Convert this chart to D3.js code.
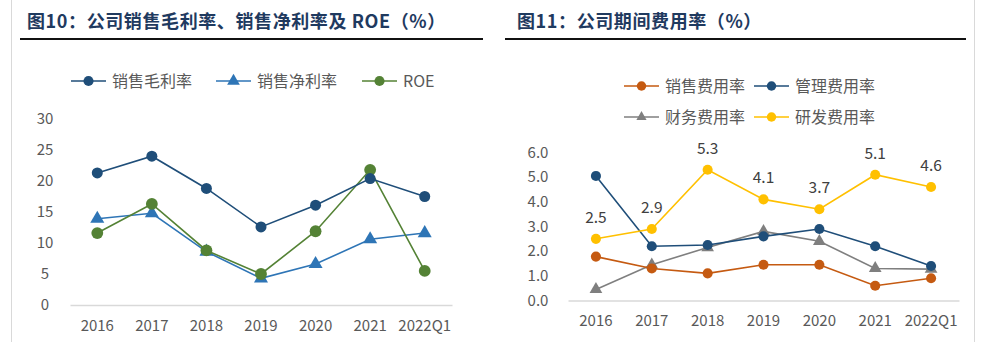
<!DOCTYPE html>
<html>
<head>
<meta charset="utf-8">
<script src="https://cdn.jsdelivr.net/npm/d3@7"></script>
<style>
  body { margin: 0; background: #fff; }
  svg text { font-family: "Noto Sans CJK SC", "Noto Sans", sans-serif; }
</style>
</head>
<body>
<div id="chart"></div>
<script>
const chart_width = 988;
const chart_height = 342;

// categories shared by both charts
const years = ['2016', '2017', '2018', '2019', '2020', '2021', '2022Q1'];

// chart 10 series (%)
const gross_margin = [21.3, 24.0, 18.8, 12.6, 16.1, 20.4, 17.5];
const net_margin = [13.9, 14.8, 8.6, 4.3, 6.6, 10.6, 11.6];
const roe = [11.6, 16.3, 8.8, 5.0, 11.9, 21.8, 5.5];
const left_ticks = [0, 5, 10, 15, 20, 25, 30];

// chart 11 series (%)
const sales_exp = [1.78, 1.3, 1.1, 1.45, 1.45, 0.6, 0.9];
const admin_exp = [5.05, 2.2, 2.25, 2.6, 2.9, 2.2, 1.4];
const finance_exp = [0.45, 1.45, 2.15, 2.8, 2.4, 1.3, 1.27];
const rd_exp = [2.5, 2.9, 5.3, 4.1, 3.7, 5.1, 4.6];
const right_ticks = [0, 1, 2, 3, 4, 5, 6];

const c_navy = '#1f4e79';
const c_blue = '#2e75b6';
const c_green = '#548235';
const c_orange = '#c55a11';
const c_gray = '#7f7f7f';
const c_yellow = '#ffc000';
const c_text = '#595959';

const svg = d3.select('#chart')
    .append('svg')
    .attr('width', chart_width)
    .attr('height', chart_height);

// page frame lines
svg.append('line').attr('x1', 11.5).attr('x2', 11.5).attr('y1', 0).attr('y2', chart_height)
    .attr('stroke', '#d9d9d9');
svg.append('line').attr('x1', 974.5).attr('x2', 974.5).attr('y1', 0).attr('y2', chart_height)
    .attr('stroke', '#d9d9d9');

//--------------------------------------------------------------------
// titles
function title(x, x1, x2, label) {
    svg.append('text')
        .attr('x', x).attr('y', 28)
        .attr('font-size', 18)
        .attr('font-weight', 'bold')
        .attr('letter-spacing', 0.6)
        .attr('fill', '#1f3a5f')
        .text(label);
    svg.append('line')
        .attr('x1', x1).attr('x2', x2)
        .attr('y1', 39).attr('y2', 39)
        .attr('stroke', '#111').attr('stroke-width', 2);
}
title(27, 20, 483, '图10：公司销售毛利率、销售净利率及 ROE（%）');
title(517, 505, 966, '图11：公司期间费用率（%）');

//--------------------------------------------------------------------
// markers
function marker(g, shape, color, x, y, size) {
    if (shape === 'triangle') {
        g.append('path')
            .attr('d', d3.symbol(d3.symbolTriangle, size)())
            .attr('transform', 'translate(' + x + ',' + (y) + ')')
            .attr('fill', color);
    } else {
        g.append('circle')
            .attr('cx', x).attr('cy', y).attr('r', Math.sqrt(size / Math.PI))
            .attr('fill', color);
    }
}

function legend_item(x, y, s) {
    const g = svg.append('g');
    g.append('line')
        .attr('x1', x).attr('x2', x + 35)
        .attr('y1', y).attr('y2', y)
        .attr('stroke', s.color).attr('stroke-width', 1.5);
    marker(g, s.shape, s.color, x + 17.5, y, s.legend_size);
    g.append('text')
        .attr('x', x + 41).attr('y', y + 5.5)
        .attr('font-size', 16)
        .attr('fill', c_text)
        .text(s.name);
}

//--------------------------------------------------------------------
// generic line chart
function draw_chart(cfg) {
    const x_scale = d3.scaleBand()
        .domain(years)
        .range([cfg.left, cfg.right]);

    const y_scale = d3.scaleLinear()
        .domain([0, d3.max(cfg.ticks)])
        .range([cfg.bottom, cfg.top]);

    const y_axis = d3.axisLeft(y_scale)
        .tickValues(cfg.ticks)
        .tickSize(0)
        .tickPadding(0)
        .tickFormat(cfg.format);

    svg.append('g')
        .attr('transform', 'translate(' + cfg.label_x + ',0)')
        .call(y_axis)
        .call(g => g.select('.domain').remove())
        .call(g => g.selectAll('text')
            .attr('font-size', 15)
            .attr('fill', c_text)
            .attr('text-anchor', 'middle'));

    const x_axis = d3.axisBottom(x_scale)
        .tickSize(0)
        .tickPadding(15);

    svg.append('g')
        .attr('transform', 'translate(0,' + cfg.bottom + ')')
        .call(x_axis)
        .call(g => g.select('.domain').attr('stroke', '#d9d9d9').attr('stroke-width', 1.3))
        .call(g => g.selectAll('text')
            .attr('font-size', 15)
            .attr('fill', c_text));

    const cx = d => x_scale(d) + x_scale.bandwidth() / 2;

    cfg.series.forEach(s => {
        const line = d3.line()
            .x((d, i) => cx(years[i]))
            .y(d => y_scale(d));

        const g = svg.append('g');
        g.append('path')
            .datum(s.values)
            .attr('d', line)
            .attr('fill', 'none')
            .attr('stroke', s.color)
            .attr('stroke-width', 1.6);

        s.values.forEach((v, i) => {
            marker(g, s.shape, s.color, cx(years[i]), y_scale(v), s.size);
        });

        if (s.labels) {
            g.selectAll('text')
                .data(s.values)
                .enter()
                .append('text')
                .attr('x', (d, i) => cx(years[i]))
                .attr('y', d => y_scale(d) - 16)
                .attr('text-anchor', 'middle')
                .attr('font-size', 15.5)
                .attr('fill', '#404040')
                .text(d => d.toFixed(1));
        }
    });

    cfg.legend.forEach(l => legend_item(l.x, l.y, l.s));
}

//--------------------------------------------------------------------
// chart 10
const s_gross = { name: '销售毛利率', values: gross_margin, color: c_navy, shape: 'circle', size: 95, legend_size: 80 };
const s_net = { name: '销售净利率', values: net_margin, color: c_blue, shape: 'triangle', size: 85, legend_size: 70 };
const s_roe = { name: 'ROE', values: roe, color: c_green, shape: 'circle', size: 110, legend_size: 80 };

draw_chart({
    left: 70, right: 452, top: 119, bottom: 305,
    label_x: 45,
    ticks: left_ticks,
    format: d3.format('d'),
    series: [s_net, s_roe, s_gross],
    legend: [
        { x: 71, y: 81, s: s_gross },
        { x: 216, y: 81, s: s_net },
        { x: 362, y: 81, s: s_roe }
    ]
});

//--------------------------------------------------------------------
// chart 11
const s_sales = { name: '销售费用率', values: sales_exp, color: c_orange, shape: 'circle', size: 80, legend_size: 70 };
const s_admin = { name: '管理费用率', values: admin_exp, color: c_navy, shape: 'circle', size: 80, legend_size: 70 };
const s_fin = { name: '财务费用率', values: finance_exp, color: c_gray, shape: 'triangle', size: 70, legend_size: 45 };
const s_rd = { name: '研发费用率', values: rd_exp, color: c_yellow, shape: 'circle', size: 80, legend_size: 70, labels: true };

draw_chart({
    left: 568, right: 959, top: 152.5, bottom: 300.5,
    label_x: 538,
    ticks: right_ticks,
    format: d3.format('.1f'),
    series: [s_fin, s_sales, s_admin, s_rd],
    legend: [
        { x: 624, y: 86, s: s_sales },
        { x: 754, y: 86, s: s_admin },
        { x: 624, y: 117, s: s_fin },
        { x: 754, y: 117, s: s_rd }
    ]
});
</script>
</body>
</html>
